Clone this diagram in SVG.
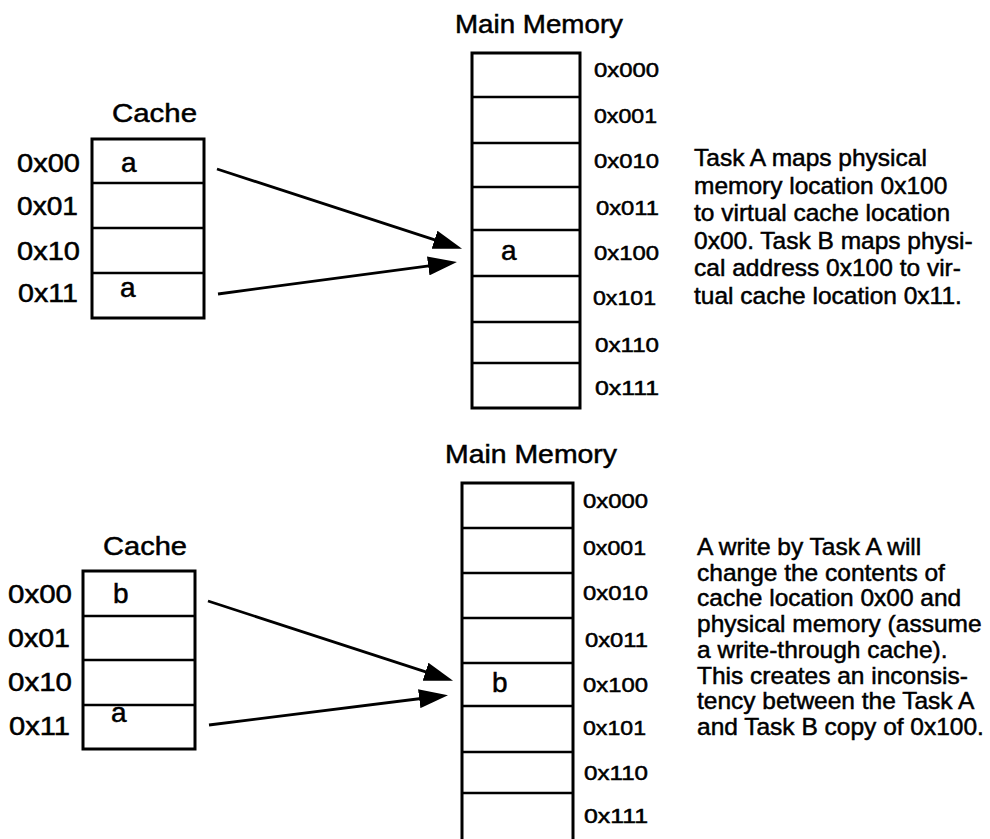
<svg xmlns="http://www.w3.org/2000/svg" width="990" height="839" viewBox="0 0 990 839">
  <style>
    text { font-family: "Liberation Sans", Arial, Helvetica, sans-serif; fill: #000; stroke: #000; stroke-width: 0.5; }
    .title { font-size: 26px; }
    .addr { font-size: 25px; }
    .maddr { font-size: 20px; }
    .val { font-size: 28px; }
    .note { font-size: 24.5px; }
    .frame { fill: #fff; stroke: #000; stroke-width: 3; }
    .row { stroke: #000; stroke-width: 2.5; }
    .link { fill: none; stroke: #000; stroke-width: 2.8; marker-end: url(#head); }
  </style>
  <defs>
    <marker id="head" viewBox="0 0 29 19" refX="14" refY="9.5" markerWidth="29" markerHeight="19" markerUnits="userSpaceOnUse" orient="auto">
      <path d="M0,0 L29,9.5 L0,19 Z" fill="#000"/>
    </marker>
  </defs>
  <rect width="990" height="839" fill="#fff"/>

  <!-- upper scenario: cache -->
  <g id="cache-top">
    <text class="title" x="112" y="122" textLength="85" lengthAdjust="spacingAndGlyphs">Cache</text>
    <rect class="frame" x="92" y="139" width="112" height="179"/>
    <line class="row" x1="92" y1="183" x2="204" y2="183"/>
    <line class="row" x1="92" y1="228" x2="204" y2="228"/>
    <line class="row" x1="92" y1="273" x2="204" y2="273"/>
    <text class="addr" x="17" y="172" textLength="63" lengthAdjust="spacingAndGlyphs">0x00</text>
    <text class="addr" x="17" y="215" textLength="61" lengthAdjust="spacingAndGlyphs">0x01</text>
    <text class="addr" x="17" y="260" textLength="63" lengthAdjust="spacingAndGlyphs">0x10</text>
    <text class="addr" x="18" y="302" textLength="60" lengthAdjust="spacingAndGlyphs">0x11</text>
    <text class="val" x="121" y="172">a</text>
    <text class="val" x="120" y="297">a</text>
  </g>

  <!-- upper scenario: main memory -->
  <g id="memory-top">
    <text class="title" x="455" y="33" textLength="168" lengthAdjust="spacingAndGlyphs">Main Memory</text>
    <rect class="frame" x="472" y="53" width="108" height="355"/>
    <line class="row" x1="472" y1="97" x2="580" y2="97"/>
    <line class="row" x1="472" y1="143" x2="580" y2="143"/>
    <line class="row" x1="472" y1="187" x2="580" y2="187"/>
    <line class="row" x1="472" y1="230" x2="580" y2="230"/>
    <line class="row" x1="472" y1="276" x2="580" y2="276"/>
    <line class="row" x1="472" y1="322" x2="580" y2="322"/>
    <line class="row" x1="472" y1="363" x2="580" y2="363"/>
    <text class="maddr" x="594" y="77" textLength="65" lengthAdjust="spacingAndGlyphs">0x000</text>
    <text class="maddr" x="594" y="123" textLength="63" lengthAdjust="spacingAndGlyphs">0x001</text>
    <text class="maddr" x="594" y="168" textLength="65" lengthAdjust="spacingAndGlyphs">0x010</text>
    <text class="maddr" x="596" y="215" textLength="63" lengthAdjust="spacingAndGlyphs">0x011</text>
    <text class="maddr" x="594" y="260" textLength="65" lengthAdjust="spacingAndGlyphs">0x100</text>
    <text class="maddr" x="593" y="305" textLength="63" lengthAdjust="spacingAndGlyphs">0x101</text>
    <text class="maddr" x="595" y="352" textLength="64" lengthAdjust="spacingAndGlyphs">0x110</text>
    <text class="maddr" x="595" y="395" textLength="64" lengthAdjust="spacingAndGlyphs">0x111</text>
    <text class="val" x="501" y="260">a</text>
  </g>

  <!-- upper scenario: explanation -->
  <g id="note-top">
    <text class="note" x="694" y="166">Task A maps physical</text>
    <text class="note" x="694" y="193.5">memory location 0x100</text>
    <text class="note" x="694" y="221">to virtual cache location</text>
    <text class="note" x="694" y="248.5">0x00. Task B maps physi-</text>
    <text class="note" x="694" y="276">cal address 0x100 to vir-</text>
    <text class="note" x="694" y="303.5">tual cache location 0x11.</text>
  </g>

  <!-- lower scenario: cache -->
  <g id="cache-bottom">
    <text class="title" x="103" y="555" textLength="84" lengthAdjust="spacingAndGlyphs">Cache</text>
    <rect class="frame" x="83" y="571" width="112" height="178"/>
    <line class="row" x1="83" y1="616" x2="195" y2="616"/>
    <line class="row" x1="83" y1="660" x2="195" y2="660"/>
    <line class="row" x1="83" y1="705" x2="195" y2="705"/>
    <text class="addr" x="8" y="603" textLength="64" lengthAdjust="spacingAndGlyphs">0x00</text>
    <text class="addr" x="8" y="647" textLength="62" lengthAdjust="spacingAndGlyphs">0x01</text>
    <text class="addr" x="8" y="691" textLength="64" lengthAdjust="spacingAndGlyphs">0x10</text>
    <text class="addr" x="9" y="735" textLength="61" lengthAdjust="spacingAndGlyphs">0x11</text>
    <text class="val" x="113" y="603">b</text>
    <text class="val" x="111" y="722">a</text>
  </g>

  <!-- lower scenario: main memory (runs off the lower edge) -->
  <g id="memory-bottom">
    <text class="title" x="445" y="463" textLength="172" lengthAdjust="spacingAndGlyphs">Main Memory</text>
    <rect class="frame" x="462" y="483" width="111" height="370"/>
    <line class="row" x1="462" y1="528" x2="573" y2="528"/>
    <line class="row" x1="462" y1="573" x2="573" y2="573"/>
    <line class="row" x1="462" y1="618" x2="573" y2="618"/>
    <line class="row" x1="462" y1="663" x2="573" y2="663"/>
    <line class="row" x1="462" y1="706" x2="573" y2="706"/>
    <line class="row" x1="462" y1="752" x2="573" y2="752"/>
    <line class="row" x1="462" y1="793" x2="573" y2="793"/>
    <text class="maddr" x="583" y="508" textLength="65" lengthAdjust="spacingAndGlyphs">0x000</text>
    <text class="maddr" x="583" y="555" textLength="63" lengthAdjust="spacingAndGlyphs">0x001</text>
    <text class="maddr" x="583" y="600" textLength="65" lengthAdjust="spacingAndGlyphs">0x010</text>
    <text class="maddr" x="585" y="647" textLength="63" lengthAdjust="spacingAndGlyphs">0x011</text>
    <text class="maddr" x="583" y="692" textLength="65" lengthAdjust="spacingAndGlyphs">0x100</text>
    <text class="maddr" x="583" y="735" textLength="63" lengthAdjust="spacingAndGlyphs">0x101</text>
    <text class="maddr" x="584" y="780" textLength="64" lengthAdjust="spacingAndGlyphs">0x110</text>
    <text class="maddr" x="584" y="823" textLength="64" lengthAdjust="spacingAndGlyphs">0x111</text>
    <text class="val" x="492" y="692">b</text>
  </g>

  <!-- lower scenario: explanation -->
  <g id="note-bottom">
    <text class="note" x="697" y="555">A write by Task A will</text>
    <text class="note" x="697" y="580.7">change the contents of</text>
    <text class="note" x="697" y="606.4">cache location 0x00 and</text>
    <text class="note" x="697" y="632.1">physical memory (assume</text>
    <text class="note" x="697" y="657.8">a write-through cache).</text>
    <text class="note" x="697" y="683.5">This creates an inconsis-</text>
    <text class="note" x="697" y="709.2">tency between the Task A</text>
    <text class="note" x="697" y="735">and Task B copy of 0x100.</text>
  </g>

  <!-- cache-to-memory mappings -->
  <g id="connectors">
    <line class="link" x1="217" y1="169" x2="447.8" y2="244.1"/>
    <line class="link" x1="218" y1="294" x2="442.1" y2="264.1"/>
    <line class="link" x1="208" y1="601" x2="438.8" y2="676.1"/>
    <line class="link" x1="209" y1="725" x2="433.1" y2="697"/>
  </g>
</svg>
